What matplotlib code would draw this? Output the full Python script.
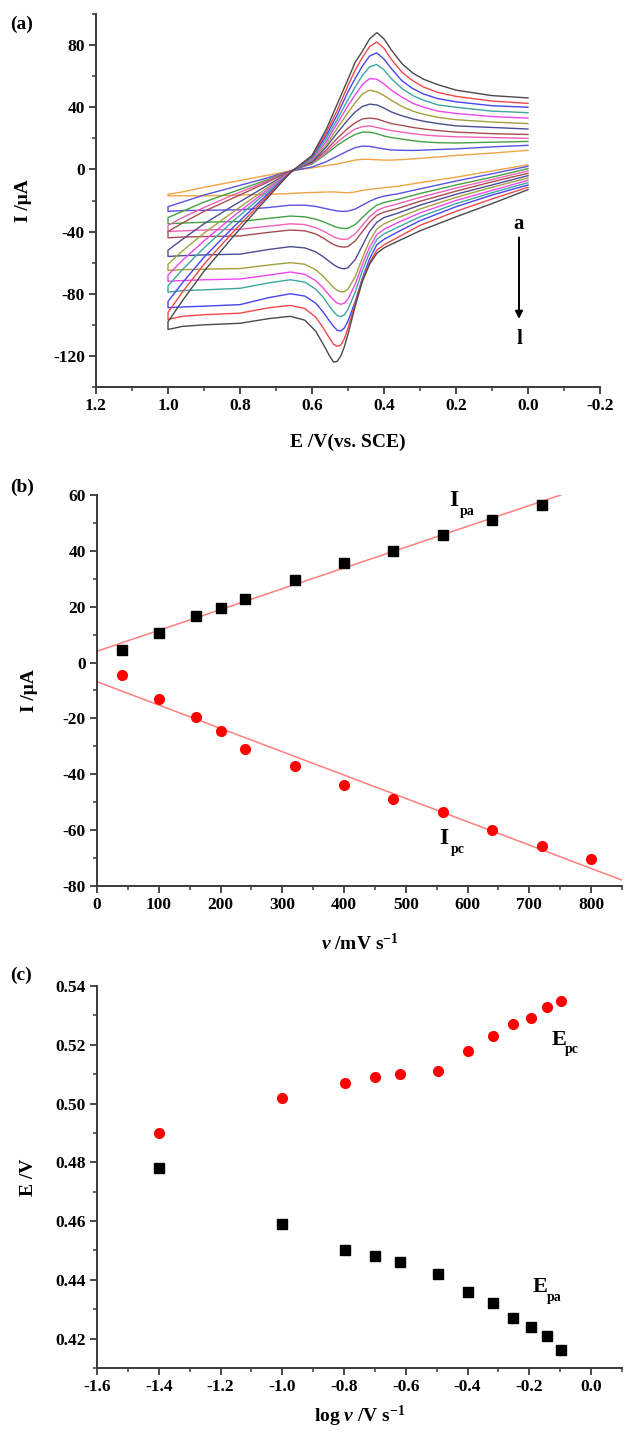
import numpy as np
import matplotlib
matplotlib.use('Agg')
import matplotlib.pyplot as plt
from matplotlib.ticker import MultipleLocator, FormatStrFormatter

plt.rcParams['font.family'] = ['Liberation Serif', 'DejaVu Serif']
plt.rcParams['font.weight'] = 'bold'
plt.rcParams['axes.unicode_minus'] = False
plt.rcParams['mathtext.fontset'] = 'custom'
plt.rcParams['mathtext.rm'] = 'Liberation Serif:bold'
plt.rcParams['mathtext.it'] = 'Liberation Serif:italic:bold'
plt.rcParams['mathtext.bf'] = 'Liberation Serif:bold'

# ---------------- (a) cyclic voltammograms a..l ----------------
# upper branch read from E = 0.0 to 1.0, lower branch from 1.0 back to 0.0
E_UP = [0.00, 0.10, 0.20, 0.25, 0.29, 0.32, 0.35, 0.38, 0.40, 0.42, 0.44,
        0.46, 0.48, 0.50, 0.53, 0.56, 0.60, 0.66, 0.74, 0.82, 0.90, 0.96, 1.00]
E_LO = [1.00, 0.96, 0.90, 0.80, 0.72, 0.66, 0.62, 0.59, 0.57, 0.55, 0.54,
        0.53, 0.52, 0.51, 0.50, 0.48, 0.46, 0.44, 0.42, 0.40, 0.36, 0.30,
        0.20, 0.10, 0.00]

up_a = [12.3, 10.5, 9, 8, 7.3, 6.8, 6.3, 6, 6, 6.2, 6.5, 6.5, 6, 5, 3.5, 2.5, 1, -1, -4.5, -8, -11.5, -14.5, -16]
up_b = [15.5, 14.5, 13.2, 12.8, 12.4, 12.2, 12.3, 12.5, 13.2, 14, 14.8, 15, 14, 12, 8.5, 5, 1.5, -1, -6.5, -11.5, -16.5, -21, -24]
up_c = [18, 17.5, 17, 17.2, 17.7, 18.5, 19.5, 20.5, 21.5, 23, 24, 24, 22.5, 20, 15.5, 10, 3.5, -1, -8, -14.5, -21, -27, -31]
up_d = [20, 20.5, 21, 21.5, 22.2, 23, 24, 25, 26, 27, 28, 27.5, 26, 23, 17.5, 11, 4, -1, -9, -16.5, -24.5, -31, -36]
up_e = [22.5, 23, 24, 25, 26, 27, 28.3, 29.5, 31, 32.5, 33, 32.5, 30, 26.5, 20, 12.5, 4.5, -1, -10, -18.5, -27, -34.5, -40]
up_f = [26, 27, 28, 29.5, 31, 32.5, 34.5, 37, 39.5, 41.5, 42, 40.5, 37, 32, 23.5, 14.5, 5, -1.5, -12.5, -23.5, -35, -45, -52]
up_g = [29.5, 30.5, 32, 33.5, 35.5, 37.5, 40.5, 44.5, 47.5, 50, 51, 48.5, 43, 36.5, 26.5, 16, 6, -1.5, -14.5, -27.5, -41, -52.5, -61]
up_h = [33, 34, 36, 37.5, 40, 42.5, 46.5, 51, 55, 58, 58.5, 54.5, 48, 41, 29.5, 18, 6.5, -1.5, -16, -30.5, -46, -58.5, -68]
up_i = [36.5, 37.5, 40, 41.5, 44.5, 47.5, 52, 58.5, 64, 67.5, 66, 60.5, 53, 45, 32, 20, 7, -2, -17.5, -33.5, -50.5, -64.5, -75]
up_j = [40, 41, 43.5, 45.5, 48.5, 52, 57, 65, 71, 75, 73, 66.5, 58.5, 50, 35, 22, 8, -2, -19.5, -37.5, -56.5, -73, -85]
up_k = [42.5, 44, 47, 49.5, 53, 57, 62.5, 71, 78, 82, 79, 72, 64, 54, 38, 24, 8.5, -2, -21, -40.5, -61, -79, -92]
up_l = [46, 47.5, 51, 54.5, 58, 62, 68, 77, 84, 88, 84, 76, 69, 58, 42, 26, 9, -2, -22.5, -43.5, -65.5, -84.5, -98]

lo_a = [-17, -17, -17, -16.5, -16, -15.5, -15, -14.8, -14.6, -14.5, -14.5, -14.6, -14.8, -15, -15, -14.5, -13.5, -12.8, -12.3, -11.8, -10.8, -8.5, -5, -1, 3]
lo_b = [-27, -26.5, -26.3, -26, -24.5, -23, -23, -23.8, -24.8, -25.8, -26.3, -26.7, -27, -27, -26.8, -25.5, -23, -20.5, -18.5, -17.2, -15.6, -12.5, -7.5, -2.8, 2]
lo_c = [-35, -34.5, -34, -33.5, -31.5, -30, -30.5, -32, -33.5, -35.5, -36.5, -37.3, -37.8, -38, -37.8, -35.5, -31, -26.5, -23, -21.3, -19.2, -15.5, -10, -5, 0.5]
lo_d = [-40, -39.5, -39, -38.5, -36.5, -35, -35.5, -37.5, -39.5, -42, -43.3, -44.3, -44.8, -45, -44.7, -41.5, -36, -30.5, -26.5, -24.5, -22, -18, -12, -6.5, -1]
lo_e = [-44, -43.5, -43.2, -42.8, -40.5, -39, -39.5, -41.5, -44, -47, -48.3, -49.3, -49.8, -50, -49.6, -46, -40, -34, -29.5, -27.5, -25, -20.5, -14, -8, -2.5]
lo_f = [-56, -55.5, -55, -54.5, -51.5, -49.7, -50.5, -53, -56, -59.5, -61.3, -62.7, -63.6, -64, -63.2, -58, -49, -40, -34, -31, -28, -23, -16, -10, -4]
lo_g = [-65, -64.5, -64.2, -63.8, -61.5, -60, -61, -64.5, -68.5, -73.5, -76, -77.8, -78.8, -78.7, -77, -69, -57, -46, -38.5, -35, -31, -25.5, -18, -11.5, -5.5]
lo_h = [-72, -71.5, -71, -70.5, -68, -66, -67.5, -71.5, -76, -81.5, -84, -86, -86.8, -86, -83.5, -74, -61, -50, -42, -38.5, -34, -28, -20, -13.5, -7]
lo_i = [-79, -78, -77.5, -76.5, -73, -71, -72.5, -77, -82, -88.5, -91.5, -94, -94.7, -93.5, -90, -79, -65, -53.5, -45, -41.5, -37, -30.5, -22, -15, -8.5]
lo_j = [-89, -88.5, -88, -87, -82.5, -80, -81.5, -86, -91.5, -98, -101, -103.5, -104, -102, -97.5, -85, -70, -57.5, -48.5, -45, -40, -33, -24, -16.5, -10]
lo_k = [-96.5, -94.5, -93.5, -92.5, -89, -87.5, -89.5, -95, -101.5, -109, -112.5, -113.8, -113, -109, -102, -86, -71, -60, -52, -48.5, -43.5, -36, -27, -19, -11.5]
lo_l = [-103, -101, -100, -99, -96, -94.5, -97, -104, -112, -120.5, -124, -123.5, -120, -114, -106, -88, -72, -61, -54, -50.5, -46, -39.5, -30.5, -22, -13]

cv_colors = ['#F2A444', '#5a52e0', '#44a044', '#f060b4', '#a84c50', '#4c4c94',
             '#a4a040', '#f046f0', '#3ea6a0', '#4646f0', '#f04848', '#4a4a4a']
upper = [up_a, up_b, up_c, up_d, up_e, up_f, up_g, up_h, up_i, up_j, up_k, up_l]
lower = [lo_a, lo_b, lo_c, lo_d, lo_e, lo_f, lo_g, lo_h, lo_i, lo_j, lo_k, lo_l]

# ---------------- (b) peak current vs scan rate ----------------
scan_rate = [40, 100, 160, 200, 240, 320, 400, 480, 560, 640, 720, 800]   # mV/s
ipa = [4.5, 10.5, 16.8, 19.7, 22.9, 29.4, 35.5, 40.0, 45.8, 51.0, 56.3]   # no value at 800
ipc = [-4.5, -13.0, -19.5, -24.5, -31.0, -37.0, -44.0, -48.8, -53.5, -59.8, -65.8, -70.3]

# ---------------- (c) peak potential vs log scan rate ----------------
log_v = [-1.398, -1.0, -0.796, -0.699, -0.620, -0.495, -0.398, -0.319,
         -0.252, -0.194, -0.143, -0.097]
epc = [0.490, 0.502, 0.507, 0.509, 0.510, 0.511, 0.518, 0.523, 0.527, 0.529, 0.533, 0.535]
epa = [0.478, 0.459, 0.450, 0.448, 0.446, 0.442, 0.436, 0.432, 0.427, 0.424, 0.421, 0.416]

SPINE = '#3a3a3a'


def style_axes(ax):
    for side in ['top', 'right']:
        ax.spines[side].set_visible(False)
    for side in ['left', 'bottom']:
        ax.spines[side].set_color(SPINE)
        ax.spines[side].set_linewidth(1.4)
    ax.tick_params(which='major', direction='out', length=5, width=1.3,
                   color=SPINE, labelsize=12.5, pad=3)
    ax.tick_params(which='minor', direction='out', length=3, width=1.1,
                   color=SPINE)
    for lab in ax.get_xticklabels() + ax.get_yticklabels():
        lab.set_fontweight('bold')


def sub_label(ax, x, y, main, sub, size=17, subsize=10):
    # big letter with a small subscript set just below its baseline
    ax.text(x, y, main, fontsize=size, fontweight='bold', ha='center', va='baseline')
    ax.annotate(sub, xy=(x, y), xytext=(4.5, 1), textcoords='offset points',
                fontsize=subsize, fontweight='bold', ha='left', va='top')


W, H = 625, 1435
fig = plt.figure(figsize=(W / 100, H / 100), dpi=100)


def axes_px(left, right, top, bottom):
    return fig.add_axes([left / W, 1 - bottom / H, (right - left) / W, (bottom - top) / H])


# ---- panel (a) ----
ax1 = axes_px(96, 600, 14, 387)
for up, lo, col in zip(upper, lower, cv_colors):
    ax1.plot(E_UP + E_LO, up + lo, color=col, lw=1.0)
ax1.set_xlim(1.2, -0.2)
ax1.set_ylim(-140, 100)
ax1.xaxis.set_major_locator(MultipleLocator(0.2))
ax1.xaxis.set_minor_locator(MultipleLocator(0.1))
ax1.xaxis.set_major_formatter(FormatStrFormatter('%.1f'))
ax1.yaxis.set_minor_locator(MultipleLocator(20))
ax1.set_yticks([-120, -80, -40, 0, 40, 80])
ax1.annotate('', xy=(0.025, -98), xytext=(0.025, -42),
             arrowprops=dict(arrowstyle='-|>', color='black', lw=1.4,
                             mutation_scale=11))
ax1.text(0.025, -35, 'a', ha='center', va='center', fontsize=15, fontweight='bold')
ax1.text(0.025, -109, 'l', ha='center', va='center', fontsize=15, fontweight='bold')
ax1.set_xlabel('E /V(vs. SCE)', fontsize=14, fontweight='bold')
ax1.set_ylabel('I /μA', fontsize=14, fontweight='bold')
ax1.xaxis.set_label_coords(0.5, -0.124)
ax1.yaxis.set_label_coords(-0.127, 0.5)
style_axes(ax1)

# ---- panel (b) ----
ax2 = axes_px(97, 622, 495, 886)
fit_a = np.polyfit(scan_rate[:len(ipa)], ipa, 1)
fit_c = np.polyfit(scan_rate, ipc, 1)
xa = np.array([0, 765])
xc = np.array([0, 850])
ax2.plot(xa, np.polyval(fit_a, xa), color='#ff7f7f', lw=1.1)
ax2.plot(xc, np.polyval(fit_c, xc), color='#ff7f7f', lw=1.1)
ax2.plot(scan_rate[:len(ipa)], ipa, 's', color='black', ms=6.5)
ax2.plot(scan_rate, ipc, 'o', color='#ff0000', ms=7)
ax2.set_xlim(0, 850)
ax2.set_ylim(-80, 60)
ax2.xaxis.set_major_locator(MultipleLocator(100))
ax2.xaxis.set_minor_locator(MultipleLocator(50))
ax2.yaxis.set_major_locator(MultipleLocator(20))
ax2.yaxis.set_minor_locator(MultipleLocator(10))
sub_label(ax2, 578, 56, 'I', 'pa')
sub_label(ax2, 562, -65, 'I', 'pc')
ax2.set_xlabel(r'$\nu$ /mV s$^{\mathrm{-1}}$', fontsize=14, fontweight='bold')
ax2.set_ylabel('I /μA', fontsize=14, fontweight='bold')
ax2.xaxis.set_label_coords(0.5, -0.120)
ax2.yaxis.set_label_coords(-0.112, 0.5)
style_axes(ax2)

# ---- panel (c) ----
ax3 = axes_px(97, 622, 986, 1368)
ax3.plot(log_v, epc, 'o', color='#ff0000', ms=7)
ax3.plot(log_v, epa, 's', color='black', ms=6.5)
ax3.set_xlim(-1.6, 0.1)
ax3.set_ylim(0.41, 0.54)
ax3.xaxis.set_major_locator(MultipleLocator(0.2))
ax3.xaxis.set_minor_locator(MultipleLocator(0.1))
ax3.xaxis.set_major_formatter(FormatStrFormatter('%.1f'))
ax3.yaxis.set_minor_locator(MultipleLocator(0.01))
ax3.set_yticks([0.42, 0.44, 0.46, 0.48, 0.50, 0.52, 0.54])
ax3.yaxis.set_major_formatter(FormatStrFormatter('%.2f'))
sub_label(ax3, -0.105, 0.520, 'E', 'pc', size=16)
sub_label(ax3, -0.165, 0.4358, 'E', 'pa', size=16)
ax3.set_xlabel(r'log $\nu$ /V s$^{\mathrm{-1}}$', fontsize=14, fontweight='bold')
ax3.set_ylabel('E /V', fontsize=14, fontweight='bold')
ax3.xaxis.set_label_coords(0.5, -0.094)
ax3.yaxis.set_label_coords(-0.114, 0.5)
style_axes(ax3)

# panel letters
fig.text(10 / W, 1 - 24 / H, '(a)', fontsize=14, fontweight='bold', va='center')
fig.text(10 / W, 1 - 487 / H, '(b)', fontsize=14, fontweight='bold', va='center')
fig.text(10 / W, 1 - 975 / H, '(c)', fontsize=14, fontweight='bold', va='center')

fig.savefig('out.png', dpi=100)
